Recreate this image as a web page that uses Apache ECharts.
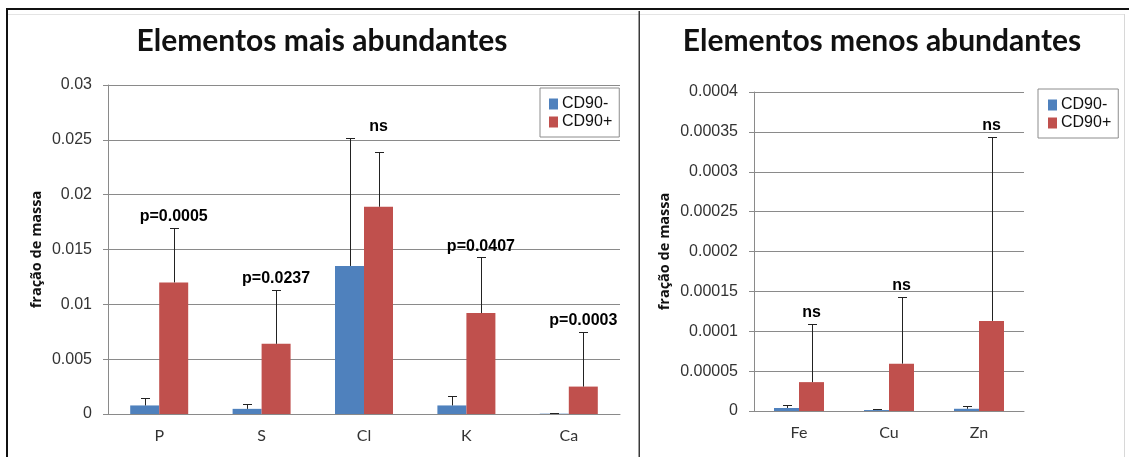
<!DOCTYPE html>
<html>
<head>
<meta charset="utf-8">
<script src="https://cdn.jsdelivr.net/npm/echarts@6/dist/echarts.min.js"></script>
<style>
html,body{margin:0;padding:0;background:#fff;}
#c{width:1129px;height:457px;}
</style>
</head>
<body>
<div id="c"></div>
<script>
// ---- data ----
const seriesNames = ['CD90-', 'CD90+'];
const titleLeft = 'Elementos mais abundantes';
const titleRight = 'Elementos menos abundantes';
const yName = 'fração de massa';

const catsLeft = ['P', 'S', 'Cl', 'K', 'Ca'];
const negLeft = [0.00078, 0.00047, 0.0135, 0.00078, 0.00003];
const negSdLeft = [0.00072, 0.00043, 0.0117, 0.00082, 0.00002];
const posLeft = [0.0120, 0.0064, 0.0189, 0.0092, 0.0025];
const posSdLeft = [0.0050, 0.0049, 0.0050, 0.0051, 0.0050];
const notesLeft = ['p=0.0005', 'p=0.0237', 'ns', 'p=0.0407', 'p=0.0003'];
const yMaxLeft = 0.03, yStepLeft = 0.005;

const catsRight = ['Fe', 'Cu', 'Zn'];
const negRight = [0.0000038, 0.0000012, 0.0000028];
const negSdRight = [0.0000037, 0.0000010, 0.0000035];
const posRight = [0.0000362, 0.0000594, 0.000113];
const posSdRight = [0.0000728, 0.0000836, 0.000231];
const notesRight = ['ns', 'ns', 'ns'];
const yMaxRight = 0.0004, yStepRight = 0.00005;

// ---- styles ----
const BLUE = '#4F81BD', RED = '#C0504D';
const GRIDC = '#8a8a8a';
const ARIAL = '"Liberation Sans", Arial, sans-serif';
const CAL = 'Lato, "Open Sans", sans-serif';
const BW_L = 29, BW_R = 25;

const chart = echarts.init(document.getElementById('c'), null, {renderer: 'canvas'});

function fmt(v) { return String(+(+v).toPrecision(6)); }

function xAxis(gi, cats) {
  return {
    type: 'category', gridIndex: gi, data: cats,
    axisLine: {lineStyle: {color: GRIDC, width: 1}},
    axisTick: {show: false},
    axisLabel: {color: '#333', fontFamily: CAL, fontSize: 16, margin: 14}
  };
}
function yAxis(gi, max, step, gap) {
  return {
    type: 'value', gridIndex: gi, min: 0, max: max, interval: step,
    name: yName, nameLocation: 'middle', nameGap: gap, nameRotate: 90,
    nameTextStyle: {fontFamily: '"Open Sans", sans-serif', fontWeight: 'bold', fontSize: 14.5, color: '#111'},
    axisLine: {show: true, lineStyle: {color: GRIDC}},
    axisTick: {show: true, inside: false, length: 5, lineStyle: {color: GRIDC}},
    splitLine: {lineStyle: {color: GRIDC, width: 1}},
    axisLabel: {formatter: fmt, color: '#333', fontFamily: ARIAL, fontSize: 16, margin: 16}
  };
}
function bar(name, gi, vals, color, bw) {
  return {
    type: 'bar', name: name, xAxisIndex: gi, yAxisIndex: gi, data: vals,
    barWidth: bw, barGap: '0%', itemStyle: {color: color}, z: 2
  };
}
function errBars(gi, vals, sds, dir, bw) {
  return {
    type: 'custom', xAxisIndex: gi, yAxisIndex: gi, z: 5, silent: true,
    data: vals.map((v, i) => [i, v, v + sds[i]]),
    encode: {x: 0, y: [1, 2]},
    renderItem: function (params, api) {
      const b = api.coord([api.value(0), api.value(1)]);
      const t = api.coord([api.value(0), api.value(2)]);
      const x = Math.round(b[0] + dir * bw / 2) + 0.5;
      const ty = Math.round(t[1]) + 0.5;
      return {type: 'group', children: [
        {type: 'line', shape: {x1: x, y1: b[1], x2: x, y2: ty}, style: {stroke: '#222', lineWidth: 1}},
        {type: 'line', shape: {x1: x - 4.5, y1: ty, x2: x + 4.5, y2: ty}, style: {stroke: '#222', lineWidth: 1}}
      ]};
    }
  };
}
function notes(gi, negV, negS, posV, posS, texts, bw) {
  return {
    type: 'custom', xAxisIndex: gi, yAxisIndex: gi, z: 6, silent: true,
    data: texts.map((t, i) => [i, Math.max(negV[i] + negS[i], posV[i] + posS[i])]),
    encode: {x: 0, y: 1},
    renderItem: function (params, api) {
      const p = api.coord([api.value(0), api.value(1)]);
      return {type: 'text', x: p[0] + bw / 2, y: p[1] - 3, style: {
        text: texts[params.dataIndex], align: 'center', verticalAlign: 'bottom',
        fontFamily: ARIAL, fontWeight: 'bold', fontSize: 16, fill: '#000'
      }};
    }
  };
}
function legend(left, top, padL) {
  return {
    data: seriesNames, orient: 'vertical', left: left, top: top,
    icon: 'rect', itemWidth: 9, itemHeight: 11, itemGap: 2,
    padding: [8, 7, 7, padL], borderColor: '#8c8c8c', borderWidth: 1, backgroundColor: '#fff',
    textStyle: {fontFamily: ARIAL, fontSize: 16, color: '#111', padding: [0, 0, 0, -1]},
    selectedMode: false
  };
}

chart.setOption({
  animation: false,
  backgroundColor: '#fff',
  title: [
    {text: titleLeft, left: 317, top: 21, textAlign: 'center',
      textStyle: {fontFamily: CAL, fontWeight: 'bold', fontSize: 30, color: '#111'}},
    {text: titleRight, left: 877, top: 21, textAlign: 'center',
      textStyle: {fontFamily: CAL, fontWeight: 'bold', fontSize: 30, color: '#111'}}
  ],
  legend: [legend(540, 88, 9), legend(1038, 89, 10)],
  grid: [
    {left: 108, right: 509, top: 85, bottom: 43},
    {left: 754, right: 105, top: 92, bottom: 46}
  ],
  xAxis: [xAxis(0, catsLeft), xAxis(1, catsRight)],
  yAxis: [yAxis(0, yMaxLeft, yStepLeft, 64), yAxis(1, yMaxRight, yStepRight, 82)],
  series: [
    bar(seriesNames[0], 0, negLeft, BLUE, BW_L),
    bar(seriesNames[1], 0, posLeft, RED, BW_L),
    errBars(0, negLeft, negSdLeft, -1, BW_L),
    errBars(0, posLeft, posSdLeft, 1, BW_L),
    notes(0, negLeft, negSdLeft, posLeft, posSdLeft, notesLeft, BW_L),
    bar(seriesNames[0], 1, negRight, BLUE, BW_R),
    bar(seriesNames[1], 1, posRight, RED, BW_R),
    errBars(1, negRight, negSdRight, -1, BW_R),
    errBars(1, posRight, posSdRight, 1, BW_R),
    notes(1, negRight, negSdRight, posRight, posSdRight, notesRight, BW_R)
  ],
  graphic: [
    {type: 'rect', shape: {x: 8, y: 14, width: 1116, height: 1}, style: {fill: '#e4e4e4'}, silent: true},
    {type: 'rect', shape: {x: 1124, y: 14, width: 1, height: 443}, style: {fill: '#d8d8d8'}, silent: true},
    {type: 'rect', shape: {x: 6, y: 8, width: 1123, height: 2}, style: {fill: '#111'}, silent: true},
    {type: 'rect', shape: {x: 6, y: 8, width: 2, height: 449}, style: {fill: '#111'}, silent: true},
    {type: 'rect', shape: {x: 638.5, y: 11, width: 1.5, height: 446}, style: {fill: '#3a3a3a'}, silent: true}
  ]
});
</script>
</body>
</html>
